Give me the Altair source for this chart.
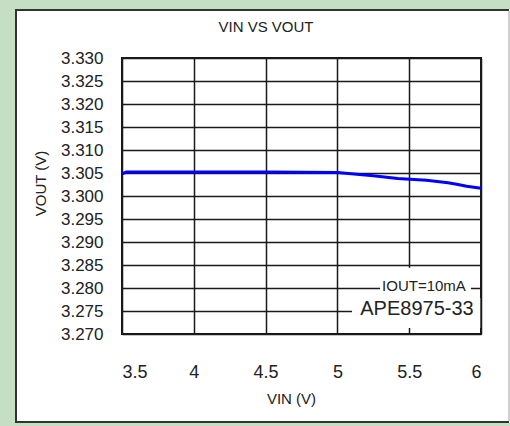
import altair as alt
import pandas as pd

# ---- data ----
vin = [3.50, 3.53, 4.00, 4.50, 5.00, 5.25, 5.42, 5.62, 5.77, 5.84, 5.90, 6.00]
vout = [3.3048, 3.3052, 3.3052, 3.3052, 3.3051, 3.3044, 3.3038, 3.3034, 3.3029, 3.3025, 3.3021, 3.3017]

x_ticks = [3.5, 4.0, 4.5, 5.0, 5.5, 6.0]
y_ticks = [3.270, 3.275, 3.280, 3.285, 3.290, 3.295, 3.300, 3.305, 3.310, 3.315, 3.320, 3.325, 3.330]

title_text = "VIN VS VOUT"
x_title = "VIN (V)"
y_title = "VOUT (V)"
note_labels = ["IOUT=10mA", "APE8975-33"]
note_x = [5.603, 5.554]
note_y = [3.2804, 3.2754]
box_x = [5.297, 5.102]
box_x2 = [5.930, 5.995]
box_y = [3.2844, 3.2778]
box_y2 = [3.2778, 3.2713]

FONT = "Liberation Sans"
W, H = 359, 276

df = pd.DataFrame({"vin": vin, "vout": vout})
notes = pd.DataFrame({"x": note_x, "y": note_y, "label": note_labels,
                      "size": [15, 20]})
boxes = pd.DataFrame({"x": box_x, "x2": box_x2, "y": box_y, "y2": box_y2})
one = pd.DataFrame({"k": [0]})
title_df = pd.DataFrame({"t": [title_text]})

xs = alt.Scale(domain=[3.5, 6.0], nice=False, zero=False)
ys = alt.Scale(domain=[3.270, 3.330], nice=False, zero=False)

x_axis = alt.Axis(values=x_ticks, format="~g", title=x_title,
                  titleX=169, titleY=57, titleBaseline="top",
                  titleAlign="center", labelPadding=29, labelOverlap=False)
y_axis = alt.Axis(values=y_ticks, format=".3f", title=y_title,
                  titleX=-82, titleY=125, titleAngle=-90,
                  titleBaseline="middle", titleAlign="center",
                  labelPadding=19, labelOverlap=False)


def frame_rect(x, x2, y, y2, color):
    return alt.Chart(one).mark_rect(color=color).encode(
        x=alt.value(x), x2=alt.value(x2), y=alt.value(y), y2=alt.value(y2)
    )


green = "#c4dfc4"
dark = "#333333"
frame = [
    frame_rect(-122, 388, -58, -49, green),
    frame_rect(-122, 388, 365, 368, green),
    frame_rect(-122, -107, -58, 368, green),
    frame_rect(-107, 387, -49, -47, dark),
    frame_rect(-107, -105, -49, 365, dark),
    frame_rect(-107, 387, 363, 365, dark),
    frame_rect(386, 388, -47, 363, "#d0d0d0"),
]

title_layer = alt.Chart(title_df).mark_text(
    font=FONT, fontSize=15, color="#222222", align="center", baseline="alphabetic"
).encode(x=alt.value(144), y=alt.value(-26), text="t:N")

line = alt.Chart(df).mark_line(color="#0000ff", strokeWidth=3).encode(
    x=alt.X("vin:Q", scale=xs, axis=x_axis, title=x_title),
    y=alt.Y("vout:Q", scale=ys, axis=y_axis, title=y_title),
)

box_layer = alt.Chart(boxes).mark_rect(color="white").encode(
    x=alt.X("x:Q", scale=xs, axis=x_axis, title=x_title), x2="x2:Q",
    y=alt.Y("y:Q", scale=ys, axis=y_axis, title=y_title), y2="y2:Q",
)

text_layer = alt.Chart(notes).mark_text(font=FONT, color="#222222",
                                        baseline="middle", align="center").encode(
    x=alt.X("x:Q", scale=xs, axis=x_axis, title=x_title),
    y=alt.Y("y:Q", scale=ys, axis=y_axis, title=y_title),
    text="label:N",
    size=alt.Size("size:Q", scale=None, legend=None),
)

chart = alt.layer(line, box_layer, text_layer, *frame, title_layer).properties(
    width=W, height=H,
    autosize=alt.AutoSizeParams(type="none"),
    padding={"left": 122, "top": 58, "right": 29, "bottom": 92},
    background="white",
).configure_view(
    stroke="#1a1a1a", strokeWidth=2
).configure_axis(
    grid=True, gridColor="#1a1a1a", gridWidth=1.5, gridOpacity=1,
    domain=False, ticks=False, tickSize=0,
    labelFont=FONT, labelColor="#222222",
    titleFont=FONT, titleColor="#222222", titleFontSize=15, titleFontWeight="normal",
).configure_axisX(
    labelFontSize=18
).configure_axisY(
    labelFontSize=17
)

chart.save("out.html", embed_options={"renderer": "svg", "actions": False})
